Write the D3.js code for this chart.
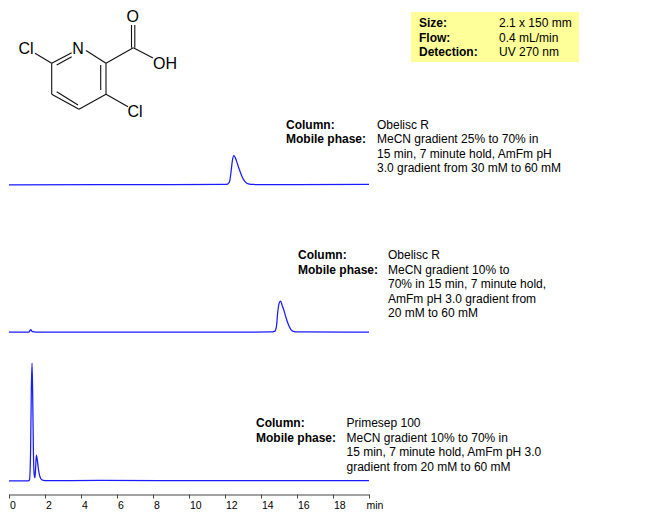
<!DOCTYPE html>
<html><head><meta charset="utf-8">
<script src="https://cdn.jsdelivr.net/npm/d3@7"></script>
<style>html,body{margin:0;padding:0;background:#fff}svg{display:block}text{font-family:"Liberation Sans",Arial,sans-serif;fill:#000}</style>
</head><body><div id="c"></div>
<script>
// Chromatogram readings: retention time (min) and detector signal (arbitrary units)
const timeTicks = [0,2,4,6,8,10,12,14,16,18,20];
const trace1Time = [0,5,9,12.05,12.15,12.25,12.33,12.41,12.49,12.57,12.67,12.8,12.95,13.1,13.3,13.55,16,20];
const trace1Signal = [0,0.2,0.2,0.3,0.8,3,12,24,29,27,22,15,8,3.5,1,0.3,0.2,0.4];
const trace2Time = [0,1.1,1.2,1.3,1.5,5,10,14.55,14.75,14.85,14.93,15.01,15.09,15.17,15.27,15.4,15.55,15.75,16.05,20];
const trace2Signal = [0.2,0.2,2.6,0.6,0.2,0.2,0.2,0.3,0.9,5,20,29,31,27,22,14,6.5,1.2,0.3,0.2];
const trace3Time = [0,1.07,1.14,1.2,1.24,1.28,1.32,1.36,1.4,1.44,1.48,1.52,1.57,1.64,1.72,1.82,2,5,12,20];
const trace3Signal = [0,0,1,30,90,117,80,25,6,3,13,25.5,21,11,4,1,0.2,0.3,0.1,0.2];
const infoLabels = ["Size:","Flow:","Detection:"];
const infoValues = ["2.1 x 150 mm","0.4 mL/min","UV 270 nm"];
const labelNames = ["Column:","Mobile phase:"];
const note1 = ["Obelisc R","MeCN gradient 25% to 70% in","15 min, 7 minute hold, AmFm pH","3.0 gradient from 30 mM to 60 mM"];
const note2 = ["Obelisc R","MeCN gradient 10% to","70% in 15 min, 7 minute hold,","AmFm pH 3.0 gradient from","20 mM to 60 mM"];
const note3 = ["Primesep 100","MeCN gradient 10% to 70% in","15 min, 7 minute hold, AmFm pH 3.0","gradient from 20 mM to 60 mM"];

const W=666,H=519;
const svg=d3.select("#c").append("svg").attr("width",W).attr("height",H).attr("viewBox",[0,0,W,H]);
const x=d3.scaleLinear().domain([0,20]).range([9,369]);
const y=d3.scaleLinear().domain([0,117]).range([0,-117.7]);
const line=d3.line().x(d=>x(d[0])).y(d=>y(d[1])).curve(d3.curveMonotoneX);
[[trace1Time,trace1Signal,184.8],[trace2Time,trace2Signal,332.3],[trace3Time,trace3Signal,480.8]].forEach(([t,s,b])=>{
  svg.append("path").attr("transform",`translate(0,${b})`)
    .attr("d",line(t.map((v,i)=>[v,s[i]]))).attr("fill","none").attr("stroke","#1a1aff").attr("stroke-width",1.25);
});
// axis
const ax=svg.append("g").attr("transform","translate(0,494.5)")
  .call(d3.axisBottom(x).tickValues(timeTicks).tickSize(4).tickSizeOuter(0).tickFormat(d=>d===20?"min":d));
ax.select(".domain").attr("stroke","#444").attr("stroke-width",1);
ax.selectAll(".tick line").attr("stroke","#444");
ax.selectAll(".tick text").attr("text-anchor","start").attr("font-family","Liberation Sans").attr("font-size",10.5).attr("y",7).attr("dx",0.5).attr("fill","#000");
ax.selectAll(".tick").filter(d=>d===20).select("text").attr("dx",-3);

// info box
svg.append("rect").attr("x",411).attr("y",12).attr("width",168).attr("height",50).attr("fill","#ffff99");
const T=(xx,yy,s,b)=>svg.append("text").attr("x",xx).attr("y",yy).attr("font-size",12).attr("font-weight",b?"bold":"normal").text(s);
infoLabels.forEach((s,i)=>T(419,27+i*14.7,s,true));
infoValues.forEach((s,i)=>T(499,27+i*14.7,s,false));
function note(lx,vx,yy,lines){
  labelNames.forEach((s,i)=>T(lx,yy+i*14.5,s,true));
  lines.forEach((s,i)=>T(vx,yy+i*14.5,s,false));
}
note(286,377,128.5,note1);
note(298,388,259,note2);
note(256,346.5,427,note3);

// structure of the analyte (3,6-dichloropicolinic acid)
const m=svg.append("g").attr("stroke","#111").attr("stroke-width",1.1).attr("fill","none");
const bonds=[[35,53.3,51.7,63.3],[51.7,63.3,51.7,94.3],[51.7,94.3,79,109.3],[79,109.3,106,94.3],[106,94.3,106,63.3],[106,63.3,86,50.5],[71.7,52.7,51.7,63.3],
[106,63.3,133.3,47.7],[133.3,47.7,153,58],[131.5,47.7,131.5,25],[134.8,47.7,134.8,25],[106,94.3,128,106.7],
[56.7,65,71.7,56.7],[56.7,91.7,78,105],[100.7,65,100.7,90]];
bonds.forEach(b=>m.append("line").attr("x1",b[0]).attr("y1",b[1]).attr("x2",b[2]).attr("y2",b[3]));
[["Cl",26,53.5],["N",78,53.5],["O",132.7,21.5],["OH",165,69],["Cl",135,116.5]].forEach(([s,a,b])=>
  svg.append("text").attr("x",a).attr("y",b).attr("text-anchor","middle").attr("font-size",16).text(s));
</script></body></html>
